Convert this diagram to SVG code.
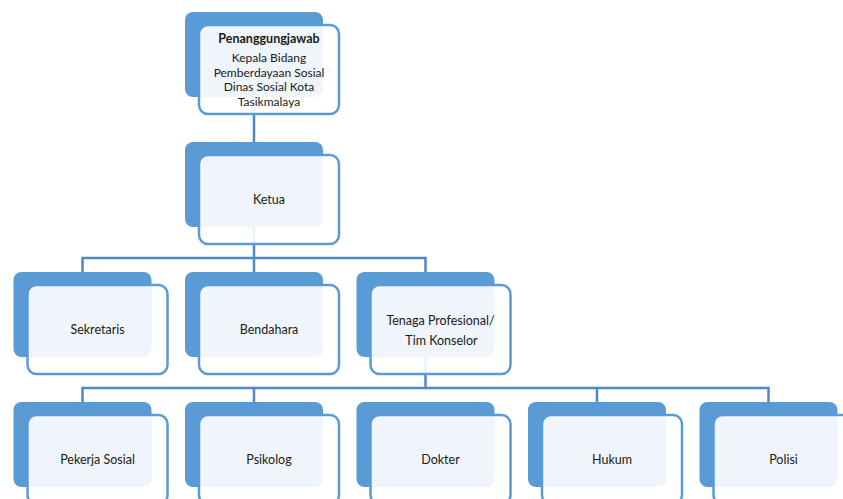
<svg xmlns="http://www.w3.org/2000/svg" width="843" height="499" viewBox="0 0 843 499">
<defs>
<style>
.bk{fill:#5B9BD5;}
.fr{fill:#FFFFFF;fill-opacity:0.9;stroke:#5B9BD5;stroke-width:2.5;}
.cn{fill:none;stroke:#4E88C6;stroke-width:2.5;}
text{font-family:Lato,"Open Sans",sans-serif;font-size:12.5px;fill:#1A1A1A;text-anchor:middle;}
.b{font-weight:bold;}
.s{font-size:12px;}
</style>
</defs>
<rect width="843" height="499" fill="#FFFFFF"/>
<g id="connectors">
<path class="cn" d="M254 97V142"/>
<path class="cn" d="M254 227V258M82.5 272V258H425.5V272M254 258V272"/>
<path class="cn" d="M425.5 357V388M82.5 402V388H768.5V402M254 388V402M597 388V402"/>
</g>
<g id="n-penanggungjawab">
<rect class="bk" x="185" y="12" width="138" height="85" rx="8"/>
<rect class="fr" x="199" y="25" width="140" height="89" rx="9"/>
<text x="269" y="42.7" class="b">Penanggungjawab</text>
<text x="269" y="62" class="s">Kepala Bidang</text>
<text x="269" y="76.5" class="s">Pemberdayaan Sosial</text>
<text x="269" y="91" class="s">Dinas Sosial Kota</text>
<text x="269" y="105.5" class="s">Tasikmalaya</text>
</g>
<g id="n-ketua">
<rect class="bk" x="185" y="142" width="138" height="85" rx="8"/>
<rect class="fr" x="199" y="155" width="140" height="89" rx="9"/>
<text x="269" y="204">Ketua</text>
</g>
<g id="n-sekretaris">
<rect class="bk" x="13.5" y="272" width="138" height="85" rx="8"/>
<rect class="fr" x="27.5" y="285" width="140" height="89" rx="9"/>
<text x="97.5" y="334">Sekretaris</text>
</g>
<g id="n-bendahara">
<rect class="bk" x="185" y="272" width="138" height="85" rx="8"/>
<rect class="fr" x="199" y="285" width="140" height="89" rx="9"/>
<text x="269" y="334">Bendahara</text>
</g>
<g id="n-tenaga">
<rect class="bk" x="356.5" y="272" width="138" height="85" rx="8"/>
<rect class="fr" x="370.5" y="285" width="140" height="89" rx="9"/>
<text x="440.5" y="324.5">Tenaga Profesional/</text>
<text x="441.5" y="344.5">Tim Konselor</text>
</g>
<g id="n-pekerja">
<rect class="bk" x="13.5" y="402" width="138" height="85" rx="8"/>
<rect class="fr" x="27.5" y="415" width="140" height="89" rx="9"/>
<text x="97.5" y="464">Pekerja Sosial</text>
</g>
<g id="n-psikolog">
<rect class="bk" x="185" y="402" width="138" height="85" rx="8"/>
<rect class="fr" x="199" y="415" width="140" height="89" rx="9"/>
<text x="269" y="464">Psikolog</text>
</g>
<g id="n-dokter">
<rect class="bk" x="356.5" y="402" width="138" height="85" rx="8"/>
<rect class="fr" x="370.5" y="415" width="140" height="89" rx="9"/>
<text x="440.5" y="464">Dokter</text>
</g>
<g id="n-hukum">
<rect class="bk" x="528" y="402" width="138" height="85" rx="8"/>
<rect class="fr" x="542" y="415" width="140" height="89" rx="9"/>
<text x="612" y="464">Hukum</text>
</g>
<g id="n-polisi">
<rect class="bk" x="699.5" y="402" width="138" height="85" rx="8"/>
<rect class="fr" x="713.5" y="415" width="140" height="89" rx="9"/>
<text x="783.5" y="464">Polisi</text>
</g>
</svg>
